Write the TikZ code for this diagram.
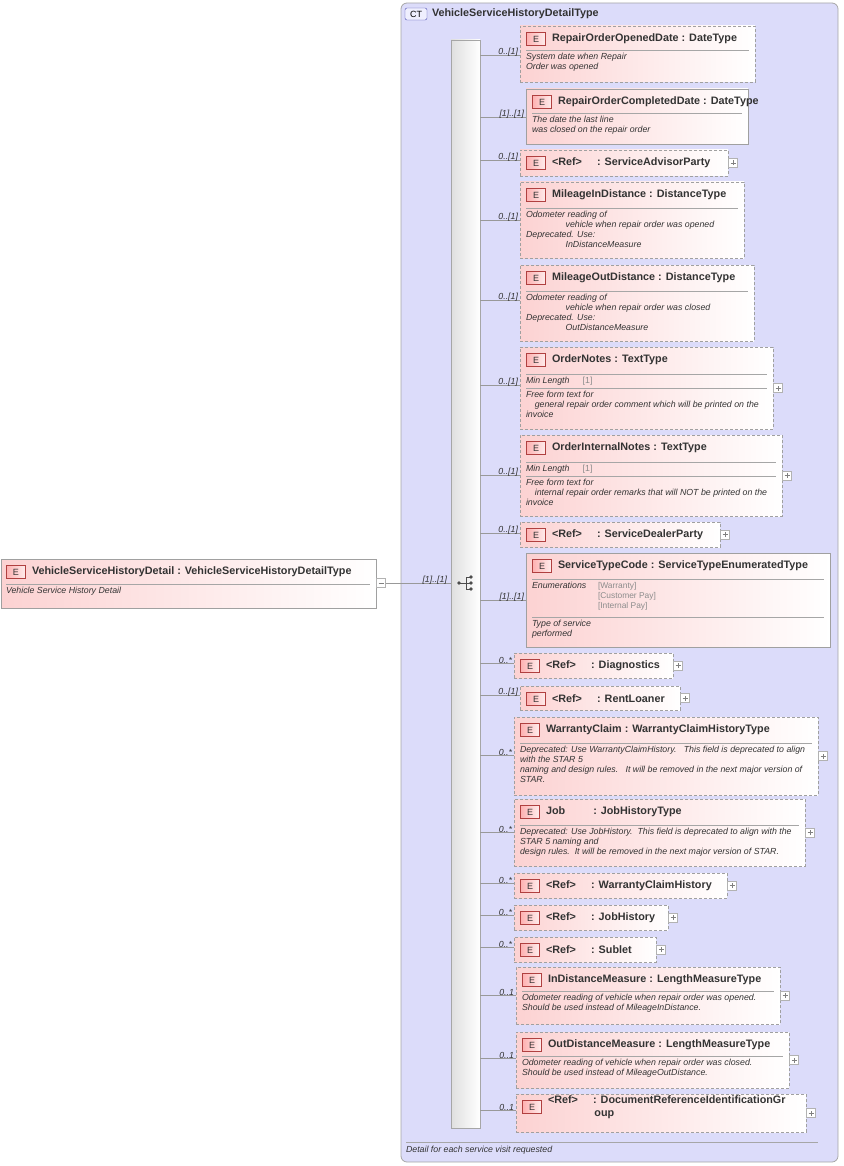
\documentclass[tikz,border=0pt]{standalone}
\usepackage{fontspec}
\setmainfont{Liberation Sans}
\usetikzlibrary{positioning}
\definecolor{ctfill}{HTML}{DCDCFA}
\definecolor{elpink}{HTML}{FCD2D2}
\definecolor{badgered}{HTML}{B04040}
\definecolor{boxgray}{HTML}{A0A0A0}
\definecolor{txtgray}{HTML}{8C8C8C}

% element box with badge, title and connector from the sequence bar
\newcommand\elem[9]{%
  \node[#2,minimum width=#5pt,minimum height=#6pt] (#1) at (#3,#4) {};
  \node[ebadge] (#1-e) at ([xshift=16pt,yshift=-13pt]#1.north west) {E};
  \node[etitle] (#1-t) at ([xshift=32pt,yshift=-13pt]#1.north west) {#9};
  \coordinate (#1-c) at (480,#7);
  \draw[conn] (#1-c) -- (#1-c -| #1.west);
  \node[mult] at ([xshift=-2pt]#1-c -| #1.west) {#8};
}
% separator and description text
\newcommand\edesc[3]{%
  \draw[esep] ([xshift=6pt,yshift=-#2pt]#1.north west) -- ([xshift=-6pt,yshift=-#2pt]#1.north east);
  \node[edoc] (#1-d) at ([xshift=6pt,yshift=-#2pt-3pt]#1.north west) {#3};
}
\newcommand\plusb[1]{%
  \node[pbox] (#1-p) at ([xshift=5pt]#1.east) {};
  \draw[gray] (#1-p.center) ++(-2.5pt,0) -- ++(5pt,0) (#1-p.center) ++(0,-2.5pt) -- ++(0,5pt);
}

\begin{document}
\begin{tikzpicture}[x=1pt,y=-1pt,
  every node/.style={inner sep=0pt,outer sep=0pt},
  elsolid/.style={anchor=north west,draw=boxgray,left color=elpink,right color=white,line width=0.8pt},
  eldash/.style={elsolid,dashed,dash pattern=on 3pt off 2pt},
  ebadge/.style={draw=badgered,left color=elpink!60!red!60,right color=elpink!40,minimum width=19pt,minimum height=13pt,font=\fontsize{9}{10}\selectfont,text=black!80},
  etitle/.style={anchor=west,font=\bfseries\fontsize{10.8}{12.5}\selectfont,text=black!80,align=left},
  esep/.style={draw=gray!70,line width=0.6pt},
  edoc/.style={anchor=north west,font=\itshape\fontsize{8.8}{10}\selectfont,text=black!80,align=left},
  mult/.style={anchor=south east,font=\itshape\fontsize{8.8}{10}\selectfont,text=black!80,yshift=-1pt},
  conn/.style={draw=gray!80,line width=0.6pt},
  pbox/.style={draw=gray!60,fill=white,minimum size=9pt},
]
\useasboundingbox (0,0) rectangle (843,1166);

% complex type container
\node[draw=gray!70,fill=ctfill,rounded corners=6pt,anchor=north west,minimum width=437pt,minimum height=1159pt,line width=0.8pt] (ct) at (401,3) {};
\node[draw=blue!40!gray,fill=ctfill!80!blue!20,rounded corners=2pt,minimum width=22pt,minimum height=12pt,font=\fontsize{9}{10}\selectfont] (ct-b) at (416,14) {CT};
\node[etitle] (ct-t) at (432,14) {VehicleServiceHistoryDetailType};
\draw[esep] (406,1142) -- (818,1142);
\node[edoc] (ct-d) at (406,1146) {Detail for each service visit requested};

% sequence compositor
\node[draw=gray!70,left color=gray!25,right color=white,anchor=north west,minimum width=29pt,minimum height=1088pt] (seq) at (451,40) {};
\fill[black!70] (459,583) circle (1.8pt) (471,577) circle (1.8pt) (471,583) circle (1.8pt) (471,589) circle (1.8pt);
\draw[black!70,line width=0.9pt] (459,583) -- (466,583) (466,577) -- (466,589) (466,577) -- (471,577) (466,589) -- (471,589) (466,583) -- (471,583);

% top element
\node[elsolid,minimum width=375pt,minimum height=49pt] (top) at (1,559) {};
\node[ebadge] (top-e) at (16,572) {E};
\node[etitle] (top-t) at (32,572) {VehicleServiceHistoryDetail\ : VehicleServiceHistoryDetailType};
\draw[esep] (6,584) -- (370,584);
\node[edoc] (top-d) at (6,587) {Vehicle Service History Detail};
\node[pbox] (top-m) at (381,583) {};
\draw[gray] (378.5,583) -- (383.5,583);
\draw[conn] (top-m.east) -- (top-m.east -| seq.west);
\node[mult] at (447,583) {[1]..[1]};

\elem{rood}{eldash}{520}{26}{235}{56}{55}{0..[1]}{RepairOrderOpenedDate\ : DateType}
\edesc{rood}{24}{System date when Repair\\Order was opened}
\elem{rocd}{elsolid}{526}{89}{222}{55}{117}{[1]..[1]}{RepairOrderCompletedDate\ : DateType}
\edesc{rocd}{24}{The date the last line\\was closed on the repair order}
\elem{sap}{eldash}{520}{150}{208}{26}{160}{0..[1]}{<Ref>\hspace{1.4em}: ServiceAdvisorParty}
\plusb{sap}
\elem{mid}{eldash}{520}{182}{224}{76}{220}{0..[1]}{MileageInDistance\ : DistanceType}
\edesc{mid}{26}{Odometer reading of\\\hspace{4.5em}vehicle when repair order was opened\\Deprecated. Use:\\\hspace{4.5em}InDistanceMeasure}
\elem{mod}{eldash}{520}{265}{234}{76}{300}{0..[1]}{MileageOutDistance\ : DistanceType}
\edesc{mod}{26}{Odometer reading of\\\hspace{4.5em}vehicle when repair order was closed\\Deprecated. Use:\\\hspace{4.5em}OutDistanceMeasure}
\elem{on}{eldash}{520}{347}{253}{82}{385}{0..[1]}{OrderNotes\ : TextType}
\edesc{on}{27}{Min Length\hspace{1.5em}{\upshape\color{txtgray}[1]}}
\edesc{on}{41}{Free form text for\\\hspace{1em}general repair order comment which will be printed on the\\invoice}
\plusb{on}
\elem{oin}{eldash}{520}{435}{262}{81}{475}{0..[1]}{OrderInternalNotes\ : TextType}
\edesc{oin}{27}{Min Length\hspace{1.5em}{\upshape\color{txtgray}[1]}}
\edesc{oin}{41}{Free form text for\\\hspace{1em}internal repair order remarks that will NOT be printed on the\\invoice}
\plusb{oin}
\elem{sdp}{eldash}{520}{522}{200}{25}{533}{0..[1]}{<Ref>\hspace{1.4em}: ServiceDealerParty}
\plusb{sdp}
\elem{stc}{elsolid}{526}{553}{304}{94}{600}{[1]..[1]}{ServiceTypeCode\ : ServiceTypeEnumeratedType}
\edesc{stc}{26}{Enumerations}
\node[edoc,font=\fontsize{8.4}{10}\selectfont,text=txtgray] (stc-en) at ([xshift=72pt,yshift=-29pt]stc.north west) {[Warranty]\\{}[Customer Pay]\\{}[Internal Pay]};
\edesc{stc}{64}{Type of service\\performed}
\elem{diag}{eldash}{514}{653}{159}{25}{663}{0..*}{<Ref>\hspace{1.4em}: Diagnostics}
\plusb{diag}
\elem{rl}{eldash}{520}{686}{160}{24}{695}{0..[1]}{<Ref>\hspace{1.4em}: RentLoaner}
\plusb{rl}
\elem{wc}{eldash}{514}{717}{304}{78}{755}{0..*}{WarrantyClaim\ : WarrantyClaimHistoryType}
\edesc{wc}{26}{Deprecated: Use WarrantyClaimHistory.\ \ \ This field is deprecated to align\\with the STAR 5\\naming and design rules.\ \ \ It will be removed in the next major version of\\STAR.}
\plusb{wc}
\elem{job}{eldash}{514}{799}{291}{67}{832}{0..*}{Job\hspace{2.6em}: JobHistoryType}
\edesc{job}{26}{Deprecated: Use JobHistory.\ \ This field is deprecated to align with the\\STAR 5 naming and\\design rules.\ \ It will be removed in the next major version of STAR.}
\plusb{job}
\elem{wch}{eldash}{514}{873}{213}{25}{883}{0..*}{<Ref>\hspace{1.4em}: WarrantyClaimHistory}
\plusb{wch}
\elem{jh}{eldash}{514}{905}{154}{25}{915}{0..*}{<Ref>\hspace{1.4em}: JobHistory}
\plusb{jh}
\elem{sub}{eldash}{514}{937}{142}{25}{947}{0..*}{<Ref>\hspace{1.4em}: Sublet}
\plusb{sub}
\elem{idm}{eldash}{516}{967}{264}{57}{995}{0..1}{InDistanceMeasure\ : LengthMeasureType}
\edesc{idm}{24}{Odometer reading of vehicle when repair order was opened.\\Should be used instead of MileageInDistance.}
\plusb{idm}
\elem{odm}{eldash}{516}{1032}{273}{56}{1058}{0..1}{OutDistanceMeasure\ : LengthMeasureType}
\edesc{odm}{24}{Odometer reading of vehicle when repair order was closed.\\Should be used instead of MileageOutDistance.}
\plusb{odm}
\elem{drig}{eldash}{516}{1094}{290}{38}{1110}{0..1}{<Ref>\hspace{1.4em}: DocumentReferenceIdentificationGr\\\hspace{4.3em}oup}
\plusb{drig}
\end{tikzpicture}
\end{document}
